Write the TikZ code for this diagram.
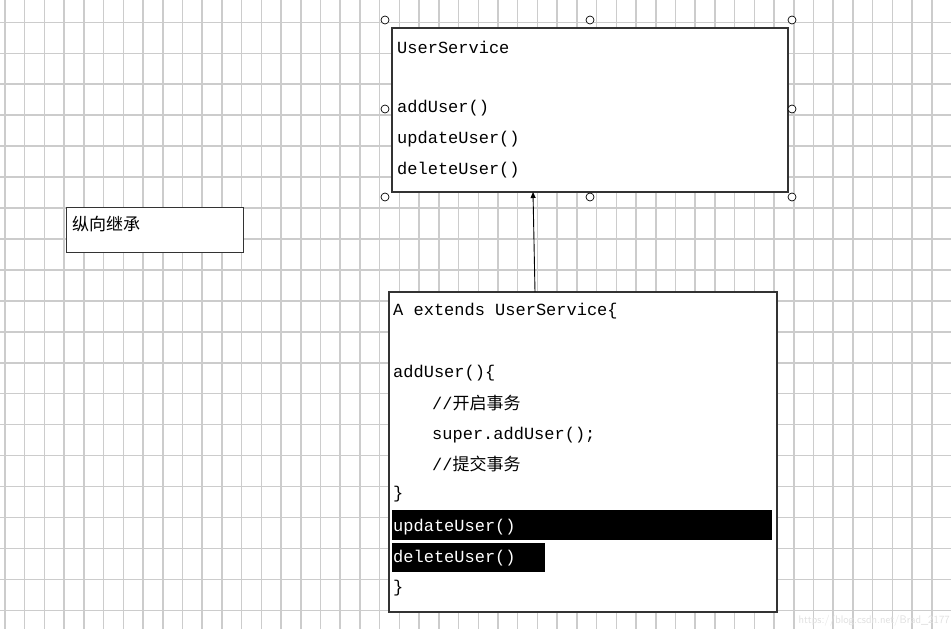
\documentclass[tikz,border=0pt]{standalone}
\usepackage{fontspec}
\setmonofont{Liberation Mono}
\newfontfamily\cjk{Noto Sans CJK SC}
\usetikzlibrary{arrows.meta}
\begin{document}
\begin{tikzpicture}[x=1pt,y=-1pt,
  box/.style={draw=black!80,line width=1.2pt,fill=white},
  code/.style={anchor=west,inner sep=0pt,font=\ttfamily\fontsize{17}{17}\selectfont},
  hcode/.style={code,text=white},
  handle/.style={circle,draw=black,fill=white,inner sep=0pt,minimum size=8pt,line width=0.7pt},
  gridline/.style={draw=black!20,line width=1.5pt}]
\useasboundingbox (0,0) rectangle (951,629);
\fill[white] (0,0) rectangle (951,629);
\foreach \i in {0,...,48} {\draw[gridline] (5+\i*19.72,0) -- (5+\i*19.72,629);}
\foreach \j in {0,...,20} {\draw[gridline] (0,22.3+\j*30.95) -- (951,22.3+\j*30.95);}
% top box
\draw[box] (392,28) rectangle (788,192);
\node[code] (t1) at (397,47) {UserService};
\node[code] (t2) at (397,108) {addUser()};
\node[code] (t3) at (397,139) {updateUser()};
\node[code] (t4) at (397,170) {deleteUser()};
\foreach \p/\q [count=\k] in {385/20,590/20,792/20,385/109,792/109,385/197,590/197,792/197}
  {\node[handle] (h\k) at (\p,\q) {};}
% left box
\node[box,line width=0.9pt,minimum width=177pt,minimum height=45pt,anchor=north west,inner sep=0pt] (lb) at (66,207) {};
\node[anchor=west,inner sep=0pt,font=\cjk\fontsize{17}{17}\selectfont] (lt) at (72,224) {纵向继承};
% bottom box
\draw[box] (389,292) rectangle (777,612);
\coordinate (top) at (535,292);
\coordinate (bot) at (533,192);
\draw[line width=0.9pt,-{Triangle[length=6pt,width=5pt]}] (top) -- (bot);
\node[code] (b1) at (393,311) {A extends UserService\{};
\node[code] (b2) at (393,373) {addUser()\{};
\node[code] (b3) at (432,403) {//{\cjk 开启事务}};
\node[code] (b4) at (432,435) {super.addUser();};
\node[code] (b5) at (432,464) {//{\cjk 提交事务}};
\node[code] (b6) at (393,494) {\}};
\fill[black] (392,510) rectangle (772,540);
\fill[black] (392,543) rectangle (545,572);
\node[hcode] (b7) at (393,527) {updateUser()};
\node[hcode] (b8) at (393,558) {deleteUser()};
\node[code] (b9) at (393,588) {\}};
\node[anchor=south east,inner sep=1pt,text=black!12,font=\sffamily\fontsize{11}{11}\selectfont] (wm) at (951,627) {https://blog.csdn.net/Brad\_2177};
\end{tikzpicture}
\end{document}
